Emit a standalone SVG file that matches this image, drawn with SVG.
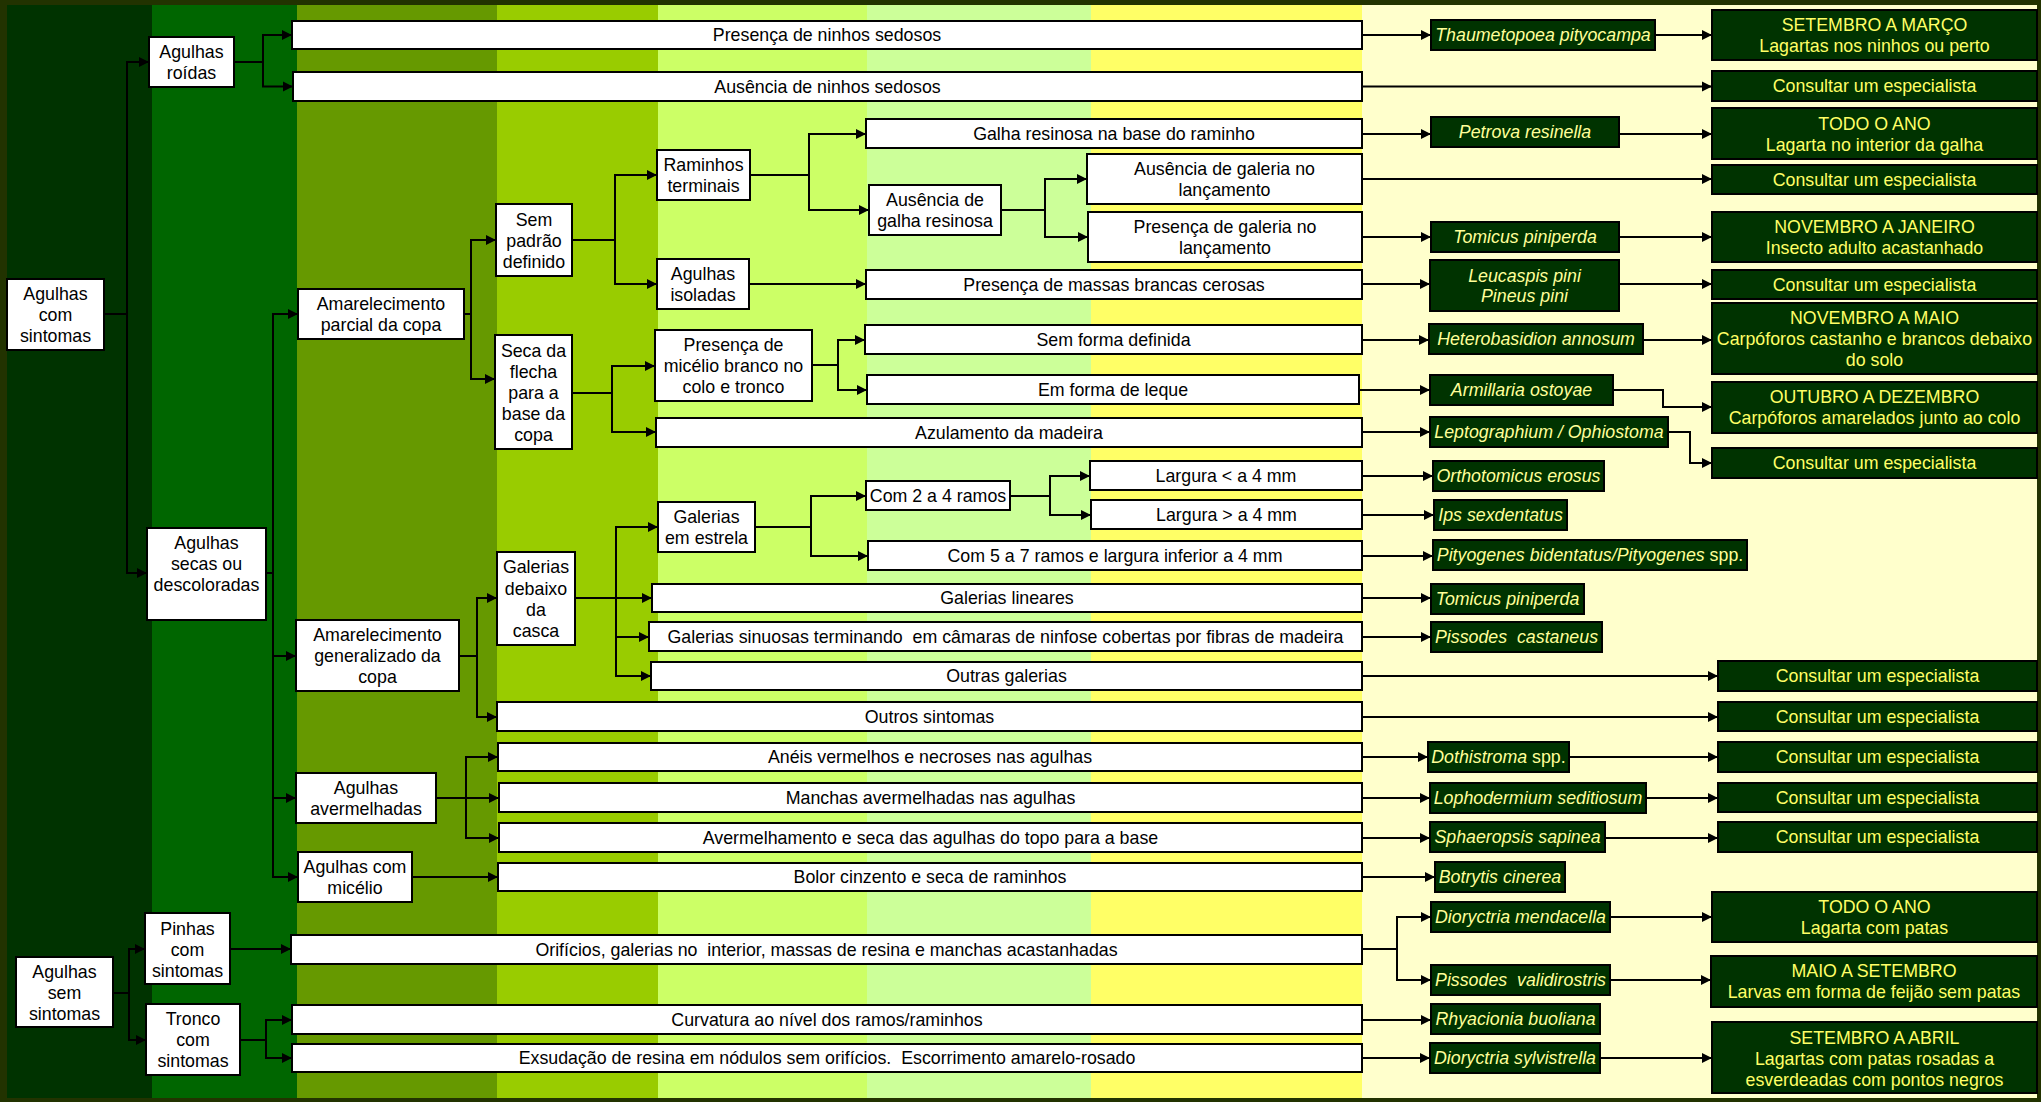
<svg xmlns="http://www.w3.org/2000/svg" width="2041" height="1102" viewBox="0 0 2041 1102">
<defs>
<style>
.w{fill:#fff;stroke:#000;stroke-width:2}
.g{fill:#003300;stroke:#000;stroke-width:2}
text{font-family:"Liberation Sans",Arial,sans-serif;font-size:17.8px;text-anchor:middle;dominant-baseline:central}
.t{fill:#000}
.s{fill:#ffff99;font-style:italic}
.r{fill:#ffff66}
.u{font-style:normal}
.p{white-space:pre}
#connectors path{fill:none;stroke:#000;stroke-width:2;marker-end:url(#a)}
</style>
<marker id="a" viewBox="0 0 10 10" refX="10" refY="5" markerWidth="10" markerHeight="11" markerUnits="userSpaceOnUse" orient="auto"><path d="M0,0 L10,5 L0,10 z" fill="#000"/></marker>
</defs>
<g id="background">
<rect x="0" y="0" width="2041" height="1102" fill="#223300"/>
<rect x="7" y="5" width="145" height="1093" fill="#003300"/>
<rect x="152" y="5" width="145" height="1093" fill="#006600"/>
<rect x="297" y="5" width="200" height="1093" fill="#669900"/>
<rect x="497" y="5" width="161" height="1093" fill="#99cc00"/>
<rect x="658" y="5" width="209" height="1093" fill="#ccff66"/>
<rect x="867" y="5" width="224" height="1093" fill="#ccff99"/>
<rect x="1091" y="5" width="271" height="1093" fill="#ffff66"/>
<rect x="1362" y="5" width="675" height="1093" fill="#ffffcc"/>
</g>
<g id="connectors">
<path d="M104,314 H127 V62 H149"/>
<path d="M104,314 H127 V573 H147"/>
<path d="M234,62 H263 V35 H292"/>
<path d="M234,62 H263 V86.5 H293"/>
<path d="M266,573 H273 V314 H298"/>
<path d="M266,573 H273 V656 H296"/>
<path d="M266,573 H273 V798 H296"/>
<path d="M266,573 H273 V877 H298"/>
<path d="M464,314 H471 V240 H496"/>
<path d="M464,314 H471 V379 H495"/>
<path d="M572,240 H615 V175 H657"/>
<path d="M572,240 H615 V284 H657"/>
<path d="M750,175 H809 V134 H866"/>
<path d="M750,175 H809 V210 H869"/>
<path d="M1001,210 H1045 V179 H1087"/>
<path d="M1001,210 H1045 V237 H1088"/>
<path d="M749,284 H866"/>
<path d="M572,393 H612 V366 H655"/>
<path d="M572,393 H612 V432 H656"/>
<path d="M812,365 H838 V340 H865"/>
<path d="M812,365 H838 V390 H867"/>
<path d="M459,656 H477 V598 H497"/>
<path d="M459,656 H477 V717 H497"/>
<path d="M575,598 H616 V527 H658"/>
<path d="M575,598 H652"/>
<path d="M575,598 H616 V637 H649"/>
<path d="M575,598 H616 V676 H651"/>
<path d="M755,527 H811 V496 H866"/>
<path d="M755,527 H811 V556 H868"/>
<path d="M1010,496 H1050 V476 H1090"/>
<path d="M1010,496 H1050 V515 H1091"/>
<path d="M436,798 H466 V757 H498"/>
<path d="M436,798 H499"/>
<path d="M436,798 H466 V838 H499"/>
<path d="M412,877 H498"/>
<path d="M113,993 H129 V949 H145"/>
<path d="M113,993 H129 V1040 H146"/>
<path d="M230,949 H291"/>
<path d="M240,1040 H266 V1020 H292"/>
<path d="M240,1040 H266 V1058 H292"/>
<path d="M1362,35 H1431"/>
<path d="M1655,35 H1712"/>
<path d="M1362,86.5 H1712"/>
<path d="M1362,134 H1431"/>
<path d="M1619,134 H1712"/>
<path d="M1362,179 H1712"/>
<path d="M1362,237 H1431"/>
<path d="M1619,237 H1712"/>
<path d="M1362,284 H1430"/>
<path d="M1619,284 H1712"/>
<path d="M1362,340 H1429"/>
<path d="M1643,340 H1712"/>
<path d="M1359,390 H1430"/>
<path d="M1613,390 H1663 V407 H1712"/>
<path d="M1362,432 H1430"/>
<path d="M1668,432 H1690 V463 H1712"/>
<path d="M1362,476 H1433"/>
<path d="M1362,515 H1434"/>
<path d="M1362,556 H1433"/>
<path d="M1362,598 H1431"/>
<path d="M1362,637 H1431"/>
<path d="M1362,676 H1718"/>
<path d="M1362,717 H1718"/>
<path d="M1362,757 H1428"/>
<path d="M1569,757 H1718"/>
<path d="M1362,798 H1430"/>
<path d="M1646,798 H1718"/>
<path d="M1362,838 H1430"/>
<path d="M1605,838 H1718"/>
<path d="M1362,877 H1435"/>
<path d="M1362,949 H1397 V917 H1431"/>
<path d="M1362,949 H1397 V980 H1431"/>
<path d="M1610,917 H1712"/>
<path d="M1610,980 H1711"/>
<path d="M1362,1020 H1431"/>
<path d="M1362,1058 H1430"/>
<path d="M1600,1058 H1712"/>
</g>
<g id="n1"><rect class="w" x="7" y="279" width="97" height="71"/><text class="t" x="55.5" y="294">Agulhas</text><text class="t" x="55.5" y="315">com</text><text class="t" x="55.5" y="336">sintomas</text></g>
<g id="n2"><rect class="w" x="16" y="957" width="97" height="70"/><text class="t" x="64.5" y="972">Agulhas</text><text class="t" x="64.5" y="993">sem</text><text class="t" x="64.5" y="1014">sintomas</text></g>
<g id="n3"><rect class="w" x="149" y="37" width="85" height="50"/><text class="t" x="191.5" y="52">Agulhas</text><text class="t" x="191.5" y="73">roídas</text></g>
<g id="n4"><rect class="w" x="147" y="528" width="119" height="92"/><text class="t" x="206.5" y="543">Agulhas</text><text class="t" x="206.5" y="564">secas ou</text><text class="t" x="206.5" y="585">descoloradas</text></g>
<g id="n5"><rect class="w" x="145" y="913" width="85" height="71"/><text class="t" x="187.5" y="929">Pinhas</text><text class="t" x="187.5" y="950">com</text><text class="t" x="187.5" y="971">sintomas</text></g>
<g id="n6"><rect class="w" x="146" y="1004" width="94" height="71"/><text class="t" x="193" y="1019">Tronco</text><text class="t" x="193" y="1040">com</text><text class="t" x="193" y="1061">sintomas</text></g>
<g id="n7"><rect class="w" x="298" y="289" width="166" height="50"/><text class="t" x="381" y="304">Amarelecimento</text><text class="t" x="381" y="325">parcial da copa</text></g>
<g id="n8"><rect class="w" x="296" y="620" width="163" height="71"/><text class="t" x="377.5" y="635">Amarelecimento</text><text class="t" x="377.5" y="656">generalizado da</text><text class="t" x="377.5" y="677">copa</text></g>
<g id="n9"><rect class="w" x="296" y="773" width="140" height="50"/><text class="t" x="366" y="788">Agulhas</text><text class="t" x="366" y="809">avermelhadas</text></g>
<g id="n10"><rect class="w" x="298" y="852" width="114" height="50"/><text class="t" x="355" y="867">Agulhas com</text><text class="t" x="355" y="888">micélio</text></g>
<g id="n11"><rect class="w" x="496" y="204" width="76" height="72"/><text class="t" x="534" y="220">Sem</text><text class="t" x="534" y="241">padrão</text><text class="t" x="534" y="262">definido</text></g>
<g id="n12"><rect class="w" x="495" y="335" width="77" height="114"/><text class="t" x="533.5" y="351">Seca da</text><text class="t" x="533.5" y="372">flecha</text><text class="t" x="533.5" y="393">para a</text><text class="t" x="533.5" y="414">base da</text><text class="t" x="533.5" y="435">copa</text></g>
<g id="n13"><rect class="w" x="497" y="552" width="78" height="93"/><text class="t" x="536" y="567">Galerias</text><text class="t" x="536" y="589">debaixo</text><text class="t" x="536" y="610">da</text><text class="t" x="536" y="631">casca</text></g>
<g id="n14"><rect class="w" x="657" y="150" width="93" height="50"/><text class="t" x="703.5" y="165">Raminhos</text><text class="t" x="703.5" y="186">terminais</text></g>
<g id="n15"><rect class="w" x="657" y="259" width="92" height="50"/><text class="t" x="703" y="274">Agulhas</text><text class="t" x="703" y="295">isoladas</text></g>
<g id="n16"><rect class="w" x="655" y="330" width="157" height="71"/><text class="t" x="733.5" y="345">Presença de</text><text class="t" x="733.5" y="366">micélio branco no</text><text class="t" x="733.5" y="387">colo e tronco</text></g>
<g id="n17"><rect class="w" x="658" y="502" width="97" height="50"/><text class="t" x="706.5" y="517">Galerias</text><text class="t" x="706.5" y="538">em estrela</text></g>
<g id="n18"><rect class="w" x="869" y="185" width="132" height="50"/><text class="t" x="935" y="200">Ausência de</text><text class="t" x="935" y="221">galha resinosa</text></g>
<g id="n19"><rect class="w" x="866" y="481" width="144" height="29"/><text class="t" x="938" y="496">Com 2 a 4 ramos</text></g>
<g id="b1"><rect class="w" x="292" y="21" width="1070" height="28"/><text class="t" x="827" y="35">Presença de ninhos sedosos</text></g>
<g id="b2"><rect class="w" x="293" y="72" width="1069" height="29"/><text class="t" x="827.5" y="86.5">Ausência de ninhos sedosos</text></g>
<g id="b3"><rect class="w" x="866" y="119" width="496" height="29"/><text class="t" x="1114" y="133.5">Galha resinosa na base do raminho</text></g>
<g id="b4"><rect class="w" x="1087" y="154" width="275" height="50"/><text class="t" x="1224.5" y="169">Ausência de galeria no</text><text class="t" x="1224.5" y="190">lançamento</text></g>
<g id="b5"><rect class="w" x="1088" y="212" width="274" height="50"/><text class="t" x="1225" y="227">Presença de galeria no</text><text class="t" x="1225" y="248">lançamento</text></g>
<g id="b6"><rect class="w" x="866" y="270" width="496" height="29"/><text class="t" x="1114" y="284.5">Presença de massas brancas cerosas</text></g>
<g id="b7"><rect class="w" x="865" y="325" width="497" height="29"/><text class="t" x="1113.5" y="339.5">Sem forma definida</text></g>
<g id="b8"><rect class="w" x="867" y="375" width="492" height="29"/><text class="t" x="1113" y="389.5">Em forma de leque</text></g>
<g id="b9"><rect class="w" x="656" y="418" width="706" height="29"/><text class="t" x="1009" y="432.5">Azulamento da madeira</text></g>
<g id="b10"><rect class="w" x="1090" y="461" width="272" height="29"/><text class="t" x="1226" y="475.5">Largura &lt; a 4 mm</text></g>
<g id="b11"><rect class="w" x="1091" y="500" width="271" height="29"/><text class="t" x="1226.5" y="514.5">Largura &gt; a 4 mm</text></g>
<g id="b12"><rect class="w" x="868" y="541" width="494" height="29"/><text class="t" x="1115" y="555.5">Com 5 a 7 ramos e largura inferior a 4 mm</text></g>
<g id="b13"><rect class="w" x="652" y="584" width="710" height="28"/><text class="t" x="1007" y="598">Galerias lineares</text></g>
<g id="b14"><rect class="w" x="649" y="622" width="713" height="29"/><text class="t p" x="1005.5" y="636.5">Galerias sinuosas terminando  em câmaras de ninfose cobertas por fibras de madeira</text></g>
<g id="b15"><rect class="w" x="651" y="662" width="711" height="28"/><text class="t" x="1006.5" y="676">Outras galerias</text></g>
<g id="b16"><rect class="w" x="497" y="702" width="865" height="29"/><text class="t" x="929.5" y="716.5">Outros sintomas</text></g>
<g id="b17"><rect class="w" x="498" y="743" width="864" height="28"/><text class="t" x="930" y="757">Anéis vermelhos e necroses nas agulhas</text></g>
<g id="b18"><rect class="w" x="499" y="783" width="863" height="29"/><text class="t" x="930.5" y="797.5">Manchas avermelhadas nas agulhas</text></g>
<g id="b19"><rect class="w" x="499" y="823" width="863" height="29"/><text class="t" x="930.5" y="837.5">Avermelhamento e seca das agulhas do topo para a base</text></g>
<g id="b20"><rect class="w" x="498" y="863" width="864" height="28"/><text class="t" x="930" y="877">Bolor cinzento e seca de raminhos</text></g>
<g id="b21"><rect class="w" x="291" y="935" width="1071" height="29"/><text class="t p" x="826.5" y="949.5">Orifícios, galerias no  interior, massas de resina e manchas acastanhadas</text></g>
<g id="b22"><rect class="w" x="292" y="1005" width="1070" height="29"/><text class="t" x="827" y="1019.5">Curvatura ao nível dos ramos/raminhos</text></g>
<g id="b23"><rect class="w" x="292" y="1044" width="1070" height="28"/><text class="t p" x="827" y="1058">Exsudação de resina em nódulos sem orifícios.  Escorrimento amarelo-rosado</text></g>
<g id="s1"><rect class="g" x="1431" y="20" width="224" height="30"/><text class="s" x="1543" y="35">Thaumetopoea pityocampa</text></g>
<g id="s2"><rect class="g" x="1431" y="117" width="188" height="30"/><text class="s" x="1525" y="132">Petrova resinella</text></g>
<g id="s3"><rect class="g" x="1431" y="222" width="188" height="30"/><text class="s" x="1525" y="237">Tomicus piniperda</text></g>
<g id="s4"><rect class="g" x="1430" y="260" width="189" height="51"/><text class="s" x="1524.5" y="276">Leucaspis pini</text><text class="s" x="1524.5" y="296">Pineus pini</text></g>
<g id="s5"><rect class="g" x="1429" y="324" width="214" height="30"/><text class="s" x="1536" y="339">Heterobasidion annosum</text></g>
<g id="s6"><rect class="g" x="1430" y="375" width="183" height="30"/><text class="s" x="1521.5" y="390">Armillaria ostoyae</text></g>
<g id="s7"><rect class="g" x="1430" y="417" width="238" height="30"/><text class="s" x="1549" y="432">Leptographium / Ophiostoma</text></g>
<g id="s8"><rect class="g" x="1433" y="461" width="171" height="30"/><text class="s" x="1518.5" y="476">Orthotomicus erosus</text></g>
<g id="s9"><rect class="g" x="1434" y="500" width="133" height="30"/><text class="s" x="1500.5" y="515">Ips sexdentatus</text></g>
<g id="s10"><rect class="g" x="1433" y="540" width="314" height="30"/><text class="s" x="1590" y="555">Pityogenes bidentatus/Pityogenes<tspan class="u"> spp.</tspan></text></g>
<g id="s11"><rect class="g" x="1431" y="584" width="153" height="30"/><text class="s" x="1507.5" y="599">Tomicus piniperda</text></g>
<g id="s12"><rect class="g" x="1431" y="622" width="171" height="30"/><text class="s p" x="1516.5" y="637">Pissodes  castaneus</text></g>
<g id="s13"><rect class="g" x="1428" y="742" width="141" height="30"/><text class="s" x="1498.5" y="757">Dothistroma<tspan class="u"> spp.</tspan></text></g>
<g id="s14"><rect class="g" x="1430" y="783" width="216" height="30"/><text class="s" x="1538" y="798">Lophodermium seditiosum</text></g>
<g id="s15"><rect class="g" x="1430" y="822" width="175" height="30"/><text class="s" x="1517.5" y="837">Sphaeropsis sapinea</text></g>
<g id="s16"><rect class="g" x="1435" y="862" width="130" height="30"/><text class="s" x="1500" y="877">Botrytis cinerea</text></g>
<g id="s17"><rect class="g" x="1431" y="902" width="179" height="30"/><text class="s" x="1520.5" y="917">Dioryctria mendacella</text></g>
<g id="s18"><rect class="g" x="1431" y="965" width="179" height="30"/><text class="s p" x="1520.5" y="980">Pissodes  validirostris</text></g>
<g id="s19"><rect class="g" x="1431" y="1004" width="169" height="30"/><text class="s" x="1515.5" y="1019">Rhyacionia buoliana</text></g>
<g id="s20"><rect class="g" x="1430" y="1043" width="170" height="30"/><text class="s" x="1515" y="1058">Dioryctria sylvistrella</text></g>
<g id="r1"><rect class="g" x="1712" y="10" width="325" height="50"/><text class="r" x="1874.5" y="25">SETEMBRO A MARÇO</text><text class="r" x="1874.5" y="46">Lagartas nos ninhos ou perto</text></g>
<g id="r2"><rect class="g" x="1712" y="71" width="325" height="30"/><text class="r" x="1874.5" y="86">Consultar um especialista</text></g>
<g id="r3"><rect class="g" x="1712" y="108" width="325" height="51"/><text class="r" x="1874.5" y="124">TODO O ANO</text><text class="r" x="1874.5" y="145">Lagarta no interior da galha</text></g>
<g id="r4"><rect class="g" x="1712" y="165" width="325" height="29"/><text class="r" x="1874.5" y="179.5">Consultar um especialista</text></g>
<g id="r5"><rect class="g" x="1712" y="212" width="325" height="50"/><text class="r" x="1874.5" y="227">NOVEMBRO A JANEIRO</text><text class="r" x="1874.5" y="248">Insecto adulto acastanhado</text></g>
<g id="r6"><rect class="g" x="1712" y="270" width="325" height="29"/><text class="r" x="1874.5" y="284.5">Consultar um especialista</text></g>
<g id="r7"><rect class="g" x="1712" y="303" width="325" height="71"/><text class="r" x="1874.5" y="318">NOVEMBRO A MAIO</text><text class="r" x="1874.5" y="339">Carpóforos castanho e brancos debaixo</text><text class="r" x="1874.5" y="360">do solo</text></g>
<g id="r8"><rect class="g" x="1712" y="382" width="325" height="51"/><text class="r" x="1874.5" y="397">OUTUBRO A DEZEMBRO</text><text class="r" x="1874.5" y="418">Carpóforos amarelados junto ao colo</text></g>
<g id="r9"><rect class="g" x="1712" y="448" width="325" height="30"/><text class="r" x="1874.5" y="463">Consultar um especialista</text></g>
<g id="r10"><rect class="g" x="1718" y="661" width="319" height="30"/><text class="r" x="1877.5" y="676">Consultar um especialista</text></g>
<g id="r11"><rect class="g" x="1718" y="702" width="319" height="29"/><text class="r" x="1877.5" y="716.5">Consultar um especialista</text></g>
<g id="r12"><rect class="g" x="1718" y="742" width="319" height="30"/><text class="r" x="1877.5" y="757">Consultar um especialista</text></g>
<g id="r13"><rect class="g" x="1718" y="783" width="319" height="29"/><text class="r" x="1877.5" y="797.5">Consultar um especialista</text></g>
<g id="r14"><rect class="g" x="1718" y="822" width="319" height="30"/><text class="r" x="1877.5" y="837">Consultar um especialista</text></g>
<g id="r15"><rect class="g" x="1712" y="892" width="325" height="50"/><text class="r" x="1874.5" y="907">TODO O ANO</text><text class="r" x="1874.5" y="928">Lagarta com patas</text></g>
<g id="r16"><rect class="g" x="1711" y="956" width="326" height="51"/><text class="r" x="1874" y="971">MAIO A SETEMBRO</text><text class="r" x="1874" y="992">Larvas em forma de feijão sem patas</text></g>
<g id="r17"><rect class="g" x="1712" y="1022" width="325" height="71"/><text class="r" x="1874.5" y="1038">SETEMBRO A ABRIL</text><text class="r" x="1874.5" y="1059">Lagartas com patas rosadas a</text><text class="r" x="1874.5" y="1080">esverdeadas com pontos negros</text></g>
</svg>
